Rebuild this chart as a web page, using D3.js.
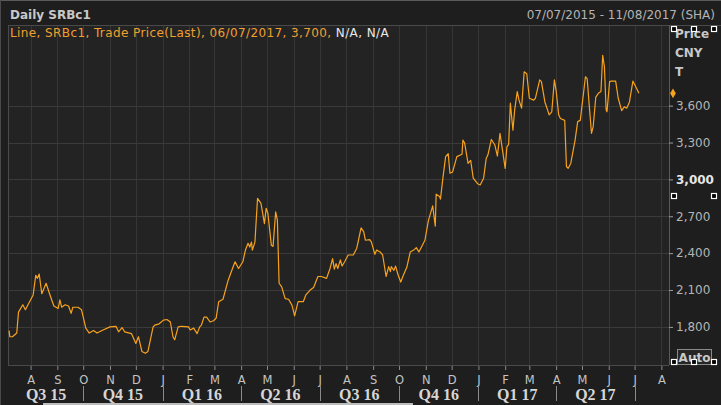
<!DOCTYPE html>
<html>
<head>
<meta charset="utf-8">
<script src="https://cdn.jsdelivr.net/npm/d3@7"></script>
<style>
  body { margin: 0; background: #1e1e1e; }
  svg { display: block; font-family: "DejaVu Sans", sans-serif; }
</style>
</head>
<body>
<div id="chart"></div>
<script>
// data (vertices of the daily line)
const dates = [
  '2015-07-07','2015-07-08','2015-07-11','2015-07-16','2015-07-18','2015-07-23','2015-07-26','2015-07-29',
  '2015-08-04','2015-08-07','2015-08-09','2015-08-11','2015-08-14','2015-08-19','2015-08-23','2015-08-28',
  '2015-09-02','2015-09-04','2015-09-06','2015-09-10','2015-09-14','2015-09-17','2015-09-19','2015-09-25','2015-09-29',
  '2015-10-04','2015-10-08','2015-10-13','2015-10-17','2015-10-24',
  '2015-11-01','2015-11-08','2015-11-11','2015-11-15','2015-11-18','2015-11-26',
  '2015-12-01','2015-12-04','2015-12-08','2015-12-12','2015-12-15','2015-12-21','2015-12-23','2015-12-28',
  '2016-01-02','2016-01-06','2016-01-10','2016-01-13','2016-01-15','2016-01-19','2016-01-23','2016-01-31',
  '2016-02-02','2016-02-06','2016-02-10','2016-02-13','2016-02-15','2016-02-18','2016-02-21','2016-02-25','2016-02-29',
  '2016-03-03','2016-03-06','2016-03-11','2016-03-17','2016-03-22','2016-03-25','2016-03-29',
  '2016-04-03','2016-04-06','2016-04-09','2016-04-11','2016-04-13','2016-04-14','2016-04-17','2016-04-20','2016-04-24','2016-04-28','2016-04-30',
  '2016-05-02','2016-05-06','2016-05-08','2016-05-11','2016-05-13','2016-05-15','2016-05-18','2016-05-22','2016-05-26','2016-05-30',
  '2016-06-02','2016-06-06','2016-06-12','2016-06-15','2016-06-20','2016-06-24','2016-06-29',
  '2016-07-03','2016-07-09','2016-07-13','2016-07-16','2016-07-18','2016-07-20','2016-07-22','2016-07-25','2016-07-27','2016-07-30',
  '2016-08-03','2016-08-09','2016-08-13','2016-08-15','2016-08-18','2016-08-21','2016-08-23','2016-08-28','2016-08-30',
  '2016-09-03','2016-09-05','2016-09-09','2016-09-12','2016-09-16','2016-09-19','2016-09-21','2016-09-22','2016-09-25','2016-09-27','2016-09-30',
  '2016-10-03','2016-10-06','2016-10-10','2016-10-14','2016-10-18','2016-10-21','2016-10-24','2016-10-27','2016-10-31',
  '2016-11-04','2016-11-09','2016-11-12','2016-11-13','2016-11-17','2016-11-18','2016-11-21','2016-11-24','2016-11-27','2016-11-29',
  '2016-12-02','2016-12-07','2016-12-13','2016-12-14','2016-12-16','2016-12-20','2016-12-23','2016-12-26','2016-12-31',
  '2017-01-03','2017-01-07','2017-01-10','2017-01-12','2017-01-16','2017-01-20','2017-01-23','2017-01-26','2017-01-30',
  '2017-02-01','2017-02-03','2017-02-05','2017-02-07','2017-02-10','2017-02-12','2017-02-15','2017-02-17','2017-02-20','2017-02-23','2017-02-26',
  '2017-03-01','2017-03-06','2017-03-08','2017-03-13','2017-03-15','2017-03-19','2017-03-24','2017-03-27','2017-03-30',
  '2017-04-01','2017-04-04','2017-04-06','2017-04-11','2017-04-13','2017-04-15','2017-04-18','2017-04-23','2017-04-26','2017-04-29',
  '2017-05-03','2017-05-05','2017-05-07','2017-05-10','2017-05-12','2017-05-14','2017-05-17','2017-05-20','2017-05-23','2017-05-25','2017-05-27','2017-05-29','2017-05-30',
  '2017-06-02','2017-06-04','2017-06-09','2017-06-12','2017-06-16','2017-06-19','2017-06-22','2017-06-25','2017-06-29',
  '2017-07-06'
];
const prices = [
  1770,1720,1720,1750,1920,1980,1940,1980,
  2060,2220,2195,2230,2070,2155,2070,1970,
  1950,2020,1960,1980,1970,1910,1960,1960,1940,
  1790,1750,1770,1750,1775,
  1800,1805,1760,1795,1760,1745,
  1665,1720,1600,1585,1600,1800,1815,1825,
  1855,1860,1840,1720,1695,1800,1805,1800,
  1775,1790,1745,1800,1815,1880,1880,1840,1850,
  1870,2005,2025,2180,2275,2330,2275,
  2330,2425,2480,2450,2490,2425,2490,2845,2805,2640,2765,
  2725,2465,2455,2735,2670,2155,2125,2030,2025,1975,
  1890,2005,2005,2060,2100,2120,2210,
  2210,2195,2275,2355,2270,2315,2275,2345,2295,2330,
  2385,2385,2440,2505,2605,2575,2505,2510,2490,
  2390,2425,2410,2385,2210,2290,2250,2290,2260,2295,2220,
  2165,2220,2285,2410,2425,2445,2410,2450,2505,
  2665,2785,2620,2880,2860,2840,3020,3185,3210,3050,
  3060,3185,3205,3320,3295,3130,3155,3010,2965,
  2955,3010,3170,3200,3325,3280,3190,3375,3185,
  3090,3265,3285,3620,3400,3565,3715,3645,3580,3875,3860,
  3660,3645,3660,3810,3795,3630,3525,3550,3810,
  3725,3525,3495,3480,3105,3090,3130,3320,3470,3480,
  3715,3835,3820,3550,3375,3430,3670,3700,3715,4010,3915,3565,3550,
  3795,3800,3800,3660,3560,3590,3580,3630,3800,
  3700
];
const yTicks = [1800, 2100, 2400, 2700, 3000, 3300, 3600];
const yDomain = [1490, 4248];
const dateRange = ['2015-07-07', '2017-08-11'];
const title = 'Daily SRBc1';
const rangeLabel = '07/07/2015 - 11/08/2017 (SHA)';
const legendOrange = 'Line, SRBc1, Trade Price(Last), 06/07/2017, 3,700,';
const legendWhite = ' N/A, N/A';
const axisTitle = ['Price', 'CNY', 'T'];
const lastValue = 3700;

const draw = () => {
    const parse = d3.timeParse('%Y-%m-%d');
    const dataSet = dates.map((d, i) => ({date: parse(d), price: prices[i]}));
    const xAccessor = d => d.date;
    const yAccessor = d => d.price;

    // dimensions
    const dimensions = {
        width: 721,
        height: 405,
        margin: {
            top: 26,
            bottom: 40,
            left: 8,
            right: 52,
        }
    };
    dimensions.containerWidth = dimensions.width - dimensions.margin.left - dimensions.margin.right;
    dimensions.containerHeight = dimensions.height - dimensions.margin.top - dimensions.margin.bottom;
    const cw = dimensions.containerWidth;
    const ch = dimensions.containerHeight;

    const svg = d3.select('#chart')
        .append('svg')
        .attr('width', dimensions.width)
        .attr('height', dimensions.height);

    svg.append('rect')
        .attr('width', dimensions.width)
        .attr('height', dimensions.height)
        .attr('fill', '#1e1e1e');

    // outer frame edges
    svg.append('line').attr('x1', 0).attr('x2', dimensions.width).attr('y1', 0.5).attr('y2', 0.5)
        .attr('stroke', '#5a5a5a');
    svg.append('line').attr('x1', 0.5).attr('x2', 0.5).attr('y1', 0).attr('y2', dimensions.height)
        .attr('stroke', '#4a4a4a');

    // header
    svg.append('text')
        .attr('x', 10).attr('y', 19)
        .attr('fill', '#c8c8c8')
        .attr('font-size', 12)
        .attr('font-weight', 'bold')
        .text(title);

    svg.append('text')
        .attr('x', 715).attr('y', 19)
        .attr('text-anchor', 'end')
        .attr('fill', '#b4b4b4')
        .attr('font-size', 12)
        .text(rangeLabel);

    svg.append('line')
        .attr('x1', dimensions.margin.left).attr('x2', dimensions.width)
        .attr('y1', 25.5).attr('y2', 25.5)
        .attr('stroke', '#4a4a4a');

    const container = svg.append('g')
        .attr('transform', `translate(${dimensions.margin.left}, ${dimensions.margin.top})`);

    container.append('rect')
        .attr('width', cw)
        .attr('height', ch)
        .attr('fill', '#232323');

    // scales
    const xScale = d3.scaleTime()
        .domain(dateRange.map(parse))
        .range([1, cw + 1]);

    const yScale = d3.scaleLinear()
        .domain(yDomain)
        .range([ch, 0]);

    const monthTicks = xScale.ticks(d3.timeMonth.every(1));
    const quarterTicks = xScale.ticks(d3.timeMonth.every(3));

    // grid
    container.append('g')
        .selectAll('line')
        .data(monthTicks)
        .join('line')
        .attr('x1', d => Math.round(xScale(d)) + 0.5)
        .attr('x2', d => Math.round(xScale(d)) + 0.5)
        .attr('y1', 0)
        .attr('y2', ch)
        .attr('stroke', '#363636');

    container.append('g')
        .selectAll('line')
        .data(yTicks)
        .join('line')
        .attr('x1', 0)
        .attr('x2', cw)
        .attr('y1', d => Math.round(yScale(d)) + 0.5)
        .attr('y2', d => Math.round(yScale(d)) + 0.5)
        .attr('stroke', '#3a3a3a');

    // plot frame
    container.append('line').attr('x1', 0.5).attr('x2', 0.5).attr('y1', 0).attr('y2', ch)
        .attr('stroke', '#4a4a4a');
    container.append('line').attr('x1', 0).attr('x2', cw).attr('y1', ch + 0.5).attr('y2', ch + 0.5)
        .attr('stroke', '#4a4a4a');
    container.append('line').attr('x1', cw + 0.5).attr('x2', cw + 0.5).attr('y1', -1).attr('y2', ch)
        .attr('stroke', '#5a5a5a');

    // legend
    const legend = container.append('text')
        .attr('x', 2).attr('y', 11)
        .attr('font-size', 12)
        .attr('letter-spacing', 0.4);
    legend.append('tspan').attr('fill', '#f0a030').text(legendOrange);
    legend.append('tspan').attr('fill', '#e8e8e8').text(legendWhite);

    // line
    container.append('clipPath').attr('id', 'plot-clip')
        .append('rect').attr('width', cw).attr('height', ch);

    const lineGenerator = d3.line()
        .x(d => xScale(xAccessor(d)))
        .y(d => yScale(yAccessor(d)));

    container.append('path')
        .datum(dataSet)
        .attr('clip-path', 'url(#plot-clip)')
        .attr('d', lineGenerator)
        .attr('fill', 'none')
        .attr('stroke', '#f7a21e')
        .attr('stroke-width', 1.2)
        .attr('stroke-linejoin', 'round');

    // y axis on the right
    const yAxis = d3.axisRight(yScale)
        .tickValues(yTicks)
        .tickSize(4)
        .tickPadding(3)
        .tickFormat(d3.format(','));

    const yAxisGroup = container.append('g')
        .attr('transform', `translate(${cw}, 0)`)
        .call(yAxis)
        .classed('axis', true);
    yAxisGroup.select('.domain').remove();
    yAxisGroup.selectAll('line').attr('stroke', '#9a9a9a');
    yAxisGroup.selectAll('text')
        .attr('fill', d => d === 3000 ? '#e6e6e6' : '#b4b4b4')
        .attr('font-weight', d => d === 3000 ? 'bold' : 'normal')
        .attr('font-size', 12)
        .attr('font-family', '"DejaVu Sans", sans-serif');

    axisTitle.forEach((t, i) => {
        container.append('text')
            .attr('x', cw + 6)
            .attr('y', 12 + i * 19)
            .attr('fill', '#c8c8c8')
            .attr('font-size', 12)
            .attr('font-weight', 'bold')
            .text(t);
    });

    // last value marker
    container.append('path')
        .attr('d', d3.symbol(d3.symbolDiamond).size(28))
        .attr('transform', `translate(${cw + 4}, ${yScale(lastValue)})`)
        .attr('fill', '#f7a21e');

    // month axis
    const xAxis = d3.axisBottom(xScale)
        .tickValues(monthTicks)
        .tickSize(4)
        .tickPadding(6)
        .tickFormat(d => d3.timeFormat('%b')(d)[0]);

    const xAxisGroup = container.append('g')
        .attr('transform', `translate(0, ${ch + 1})`)
        .call(xAxis)
        .classed('axis', true);
    xAxisGroup.select('.domain').remove();
    xAxisGroup.selectAll('line').attr('stroke', '#8a8a8a');
    xAxisGroup.selectAll('text')
        .attr('fill', '#c4c4c4')
        .attr('font-size', 11.5)
        .attr('font-family', '"DejaVu Sans", sans-serif');

    // quarter bands
    const qEdges = [xScale.domain()[0], ...quarterTicks, xScale.domain()[1]];
    const quarters = d3.pairs(qEdges).map(([a, b]) => ({
        start: a,
        end: b,
        label: `Q${Math.floor(a.getMonth() / 3) + 1} ${d3.timeFormat('%y')(a)}`
    })).filter(q => xScale(q.end) - xScale(q.start) > 50);

    container.append('g')
        .selectAll('line')
        .data(quarterTicks)
        .join('line')
        .attr('x1', d => Math.round(xScale(d)) + 0.5)
        .attr('x2', d => Math.round(xScale(d)) + 0.5)
        .attr('y1', ch + 21)
        .attr('y2', ch + 36)
        .attr('stroke', '#8a8a8a');

    container.append('g')
        .selectAll('text')
        .data(quarters)
        .join('text')
        .attr('x', d => (Math.max(0, xScale(d.start)) + xScale(d.end)) / 2)
        .attr('y', ch + 35)
        .attr('text-anchor', 'middle')
        .attr('fill', '#d6d6d6')
        .attr('font-size', 16)
        .attr('font-weight', 'bold')
        .attr('font-family', '"Liberation Serif", serif')
        .text(d => d.label);

    // scrollbar thumb at the very bottom
    svg.append('rect')
        .attr('x', 43).attr('y', 403)
        .attr('width', 370).attr('height', 2)
        .attr('fill', '#bdbdbd');

    // "Auto" button
    svg.append('rect')
        .attr('x', 677.5).attr('y', 349.5)
        .attr('width', 34).attr('height', 15)
        .attr('fill', '#262626')
        .attr('stroke', '#8a8a8a');
    svg.append('text')
        .attr('x', 694.5).attr('y', 362)
        .attr('text-anchor', 'middle')
        .attr('fill', '#c8c8c8')
        .attr('font-size', 12)
        .attr('font-weight', 'bold')
        .text('Auto');

    // selection handles of the axis panel
    const handles = [[671, 26], [691, 26], [711, 26], [671, 193], [711, 193], [671, 359], [691, 359], [711, 359]];
    svg.append('g')
        .selectAll('rect')
        .data(handles)
        .join('rect')
        .attr('x', d => d[0] + 0.5)
        .attr('y', d => d[1] + 0.5)
        .attr('width', 5)
        .attr('height', 5)
        .attr('fill', '#000')
        .attr('stroke', '#fff')
        .attr('stroke-width', 1.2);
};

draw();
</script>
</body>
</html>
